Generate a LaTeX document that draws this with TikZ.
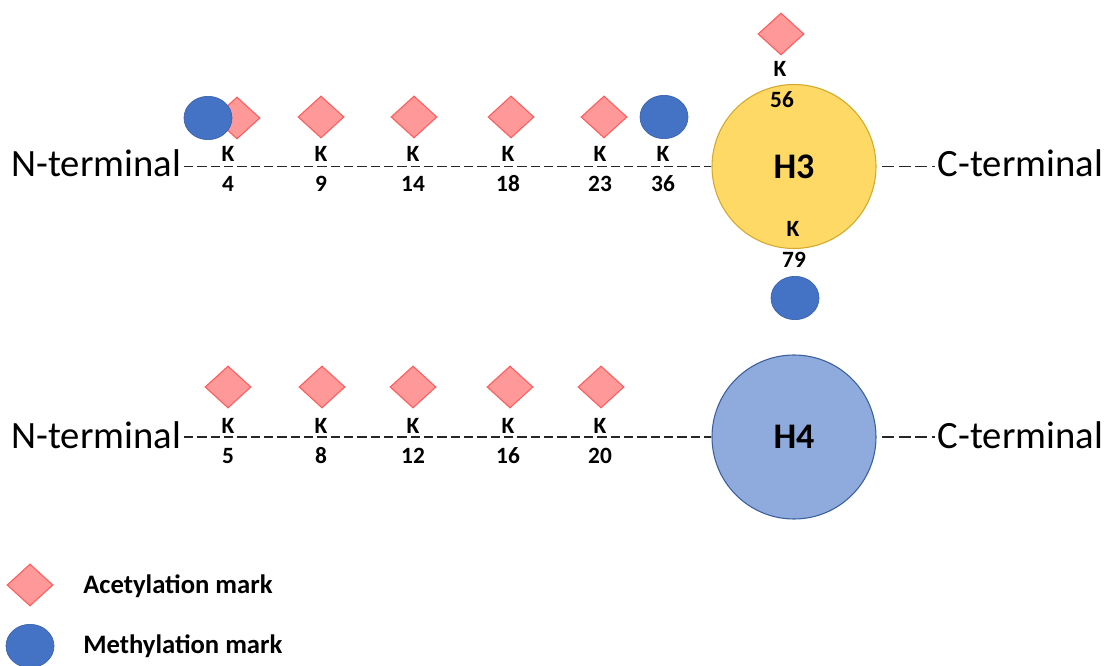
\documentclass[tikz,border=0pt]{standalone}
\usepackage{fontspec}
\setmainfont{Carlito}
\usetikzlibrary{shapes.geometric}
\definecolor{acfill}{HTML}{FF9999}
\definecolor{acdraw}{HTML}{FF5B5B}
\definecolor{mefill}{HTML}{4472C4}
\definecolor{medraw}{HTML}{3A62AE}
\definecolor{hthree}{HTML}{FFD966}
\definecolor{hthreedraw}{HTML}{D4A82A}
\definecolor{hfour}{HTML}{8FAADC}
\definecolor{hfourdraw}{HTML}{3A5F9E}
\begin{document}
\begin{tikzpicture}[x=0.75pt,y=-0.75pt,
  acmark/.style={diamond, draw=acdraw, fill=acfill, line width=0.8pt, inner sep=0pt, minimum width=34.5pt, minimum height=31.5pt},
  memark/.style={ellipse, draw=medraw, fill=mefill, line width=0.5pt, inner sep=0pt, minimum width=36pt, minimum height=32.5pt},
  histone/.style={circle, line width=0.8pt, inner sep=0pt, minimum size=123pt, font=\fontsize{27}{32}\selectfont\bfseries},
  term/.style={font=\fontsize{29}{34}\selectfont, inner xsep=2pt, inner ysep=0pt},
  klab/.style={font=\fontsize{17.5}{20}\selectfont\bfseries, inner sep=0pt, anchor=base},
  legtext/.style={font=\fontsize{20}{24}\selectfont\bfseries, inner sep=0pt, anchor=base west},
  chain/.style={line width=1.2pt, draw=black!85, dash pattern=on 7pt off 3pt},
  ctail/.style={line width=1.2pt, draw=black!85, dash pattern=on 9pt off 3.5pt}
]
\useasboundingbox (0,0) rectangle (1114,666);

% ---------- H3 row ----------
\node[term, anchor=base east] (n3) at (184,177) {N-terminal};
\node[term, anchor=base west] (c3) at (935,177) {C-terminal};
\node[histone, draw=hthreedraw, fill=hthree] (h3) at (794,166.5) {H3};
\draw[chain] (n3.east |- h3.west) -- (h3.west);
\draw[ctail] ([xshift=4pt]h3.east) -- (c3.west |- h3.east);

\node[acmark] (acA4) at (237,118) {};
\node[memark] (meA4) at (208,118) {};
\node[acmark] (acA9) at (321,117) {};
\node[acmark] (acA14) at (414,117) {};
\node[acmark] (acA18) at (511,117) {};
\node[acmark] (acA23) at (604,117) {};
\node[memark] (meA36) at (664,117) {};

\foreach \x/\n in {228/4, 321/9, 413/14, 508/18, 600/23, 663/36} {
  \node[klab] (kA\n) at (\x,162) {K};
  \node[klab] (nA\n) at (\x,192) {\n};
}

\node[acmark] (acA56) at (781,34) {};
\node[klab] (kA56) at (780,77) {K};
\node[klab] (nA56) at (782,108) {56};
\node[klab] (kA79) at (793,237) {K};
\node[klab] (nA79) at (794,268) {79};
\node[memark] (meA79) at (795,298) {};

% ---------- H4 row ----------
\node[term, anchor=base east] (n4) at (184,449) {N-terminal};
\node[term, anchor=base west] (c4) at (935,449) {C-terminal};
\node[histone, draw=hfourdraw, fill=hfour] (h4) at (794,437) {H4};
\draw[chain] (n4.east |- h4.west) -- (h4.west);
\draw[ctail] ([xshift=4pt]h4.east) -- (c4.west |- h4.east);

\node[acmark] (acB5) at (228,387) {};
\node[acmark] (acB8) at (322,387) {};
\node[acmark] (acB12) at (413,387) {};
\node[acmark] (acB16) at (510,387) {};
\node[acmark] (acB20) at (601,387) {};

\foreach \x/\n in {228/5, 321/8, 413/12, 508/16, 600/20} {
  \node[klab] (kB\n) at (\x,434) {K};
  \node[klab] (nB\n) at (\x,464) {\n};
}

% ---------- legend ----------
\node[acmark] (legac) at (30,585) {};
\node[legtext] (legactext) at (83,593) {Acetylation mark};
\node[memark] (legme) at (30,646) {};
\node[legtext] (legmetext) at (83,653) {Methylation mark};
\end{tikzpicture}
\end{document}
